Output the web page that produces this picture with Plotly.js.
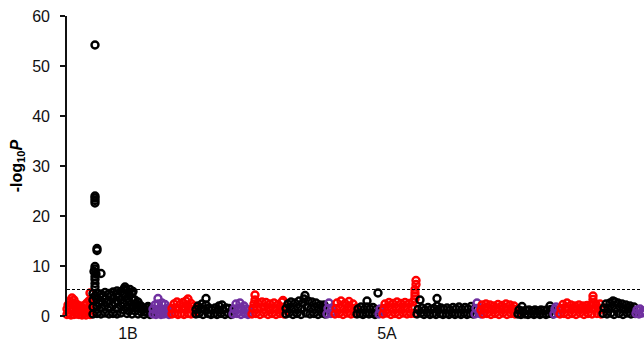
<!DOCTYPE html>
<html>
<head>
<meta charset="utf-8">
<script src="https://cdn.plot.ly/plotly-3.0.1.min.js"></script>
<style>html,body{margin:0;padding:0;background:#fff;}#chart{width:644px;height:342px;}</style>
</head>
<body>
<div id="chart"></div>
<script>
// Chromosome order and subgenome colours
const chromosomes = ["1A","1B","1D","2A","2B","2D","3A","3B","3D","4A","4B","4D","5A","5B","5D","6A","6B","6D","7A","7B","7D"];
const genomeColors = {A: "#FF0000", B: "#000000", D: "#7030A0"};

// Tick labels shown under the x axis and their cumulative positions
const tickLabels = ["1B", "5A"];
const tickPositions = [61, 320];

// Significance threshold (-log10 P)
const threshold = 5.3;

// Markers: [cumulative position, -log10 P]
const chr1A = [[0,0.3],[0,1.4],[1,2.2],[2,0.5],[3,3.0],[3,1.5],[4,0.2],[5,3.6],[5,2.4],[6,1.0],[7,3.2],[7,0.3],[8,2.0],[9,1.2],[10,0.4],[10,2.3],[12,1.6],[12,0.3],[13,2.0],[14,0.9],[15,0.2],[16,1.5],[17,0.6],[18,2.2],[19,1.3],[19,0.2],[20,2.6],[21,0.8],[22,3.0],[22,1.8],[23,0.3],[24,2.4],[24,1.2],[25,0.5],[23,4.6]];
const chr1B = [[26,0.4],[26,1.8],[26,3.2],[26,4.5],[30,0.5],[30,1.9],[30,3.3],[30,4.6],[34,0.4],[34,1.7],[34,3.0],[34,4.4],[38,0.6],[38,2.0],[38,3.4],[38,4.7],[42,0.4],[42,1.8],[42,3.1],[42,4.5],[46,0.5],[46,2.1],[46,3.5],[46,4.8],[50,0.4],[50,1.6],[50,3.0],[50,4.4],[50,5.0],[54,0.6],[54,2.0],[54,3.3],[54,4.9],[57,1.2],[57,2.6],[57,4.2],[57,5.4],[60,0.5],[60,1.9],[60,3.5],[60,5.1],[62,1.0],[62,2.8],[62,4.4],[65,0.4],[65,2.0],[65,3.6],[65,4.6],[68,1.0],[68,2.4],[68,3.2],[71,0.4],[71,1.6],[71,2.8],[74,0.8],[74,2.0],[77,0.3],[77,1.4],[80,0.8],[80,1.6],[83,0.3],[83,1.2],[85,0.6],[28,4.0],[32,2.5],[36,4.0],[40,2.7],[44,4.1],[48,2.6],[52,3.9],[56,4.5],[58,5.8],[59,5.2],[63,5.3],[66,4.9],[69,1.8],[72,2.2],[75,1.3],[78,0.8],[81,1.9],[84,0.9],[28,5.8],[28,6.5],[28,7.3],[28,7.9],[29,8.4],[27,8.9],[28,9.4],[28,9.9],[34,8.5],[30,13.1],[30,13.5],[28,22.6],[28,23.1],[28,23.6],[28,24.0],[28,54.2]];
const chr1D = [[86,0.4],[86,1.4],[88,2.2],[89,0.3],[90,1.2],[91,3.5],[91,2.4],[92,0.5],[93,1.6],[94,0.3],[95,2.6],[95,1.2],[97,0.4],[98,2.3],[98,1.3],[100,0.5],[101,1.5],[102,0.3],[103,1.0]];
const chr2A = [[105,0.4],[105,1.5],[107,2.4],[108,0.6],[109,1.6],[110,2.8],[111,0.3],[112,1.4],[113,2.3],[114,0.5],[115,1.8],[116,2.7],[117,0.3],[118,1.3],[119,3.0],[120,2.2],[121,3.4],[121,0.5],[122,1.6],[124,2.5],[124,0.4],[125,1.3],[127,2.0],[127,0.5],[128,1.2]];
const chr2B = [[129,0.4],[129,1.3],[131,2.0],[132,0.5],[134,1.5],[135,2.4],[136,0.3],[138,1.2],[139,3.5],[139,2.2],[141,0.5],[142,1.6],[144,0.3],[145,1.2],[147,0.5],[148,1.6],[150,0.3],[151,1.2],[152,2.0],[154,0.5],[155,2.2],[156,1.3],[158,0.3],[159,1.6],[161,0.6],[162,1.5],[164,0.3],[165,1.0]];
const chr2D = [[166,0.4],[167,1.4],[169,2.4],[170,0.5],[171,1.5],[173,2.6],[174,0.3],[175,1.3],[177,2.0],[178,0.5],[179,1.4],[181,0.3],[182,1.2],[183,0.6]];
const chr3A = [[185,0.4],[186,1.5],[187,2.4],[188,4.2],[188,3.2],[189,0.5],[190,1.4],[191,2.6],[193,0.3],[194,1.6],[195,2.8],[197,0.6],[198,1.8],[199,2.7],[201,0.3],[202,1.3],[203,2.4],[205,0.5],[206,1.6],[207,2.6],[209,0.3],[210,1.3],[211,2.3],[213,0.5],[214,1.6],[215,2.8],[216,3.1],[217,0.4],[218,1.4]];
const chr3B = [[219,0.4],[219,1.5],[221,2.4],[222,0.6],[223,1.8],[224,2.8],[226,0.3],[227,1.4],[228,2.6],[230,0.5],[231,1.7],[232,3.0],[234,0.3],[235,1.4],[236,2.6],[237,3.4],[238,4.1],[239,0.6],[240,1.8],[241,3.0],[243,0.4],[244,1.5],[245,2.8],[247,0.5],[248,1.8],[249,2.6],[251,0.3],[252,1.4],[253,2.2],[255,0.6],[256,1.6],[257,2.2],[258,0.4]];
const chr3D = [[260,0.4],[261,1.5],[262,2.6],[264,0.5],[265,1.6],[267,0.8]];
const chr4A = [[268,0.4],[269,1.5],[270,2.6],[272,0.5],[273,1.7],[274,3.0],[276,0.3],[277,1.4],[278,2.5],[280,0.6],[281,1.8],[282,2.9],[284,0.4],[285,1.5],[286,2.4],[288,0.5],[289,1.6]];
const chr4B = [[290,0.4],[291,1.4],[293,0.5],[294,1.8],[296,0.3],[297,1.3],[299,0.6],[300,3.0],[300,1.8],[302,0.4],[303,1.4],[305,0.6],[306,1.7],[308,0.3],[309,1.3],[311,4.6],[311,0.6]];
const chr4D = [[312,0.4],[313,1.4],[315,0.6]];
const chr5A = [[316,0.4],[317,1.5],[318,2.4],[320,0.6],[321,1.8],[322,2.7],[324,0.3],[325,1.4],[326,2.5],[328,0.5],[329,1.7],[330,2.8],[332,0.3],[333,1.4],[334,2.5],[336,0.6],[337,1.8],[338,2.7],[340,0.4],[341,1.5],[342,2.5],[344,0.5],[345,1.7],[346,2.8],[348,0.5],[348,3.4],[348,4.0],[348,4.6],[348,5.3],[349,6.3],[349,7.1]];
const chr5B = [[350,0.4],[351,1.3],[353,3.2],[354,0.6],[355,1.6],[357,0.3],[358,1.2],[360,0.6],[361,1.7],[363,0.3],[364,1.3],[366,0.5],[367,1.5],[369,0.3],[370,3.5],[370,2.0],[371,1.2],[373,0.5],[374,1.6],[376,0.3],[377,1.3],[379,0.5],[380,1.6],[382,0.3],[383,1.2],[385,0.6],[386,1.7],[388,0.3],[389,1.4],[391,0.5],[392,1.8],[394,0.3],[395,1.3],[397,0.6],[398,1.7],[400,0.3],[401,1.4],[403,0.5],[404,1.9],[406,0.4],[407,1.3]];
const chr5D = [[408,0.4],[409,1.5],[410,2.6],[412,0.6],[413,1.6],[414,0.4]];
const chr6A = [[414,1.2],[415,2.2],[416,0.4],[417,1.5],[419,2.4],[420,0.5],[421,1.6],[423,2.2],[424,0.3],[425,1.3],[427,2.0],[428,0.5],[429,1.5],[431,2.3],[432,0.3],[433,1.4],[435,2.1],[436,0.6],[437,1.6],[439,2.4],[440,0.3],[441,1.4],[443,2.2],[444,0.5],[445,1.5],[447,2.0],[448,0.4],[449,1.3],[450,0.6]];
const chr6B = [[451,0.4],[452,1.2],[454,0.3],[455,1.9],[456,1.0],[458,0.4],[459,1.1],[461,0.3],[462,1.2],[464,0.5],[465,1.0],[467,0.3],[468,1.2],[470,0.5],[471,1.0],[473,0.3],[474,1.2],[476,0.5],[477,1.1],[479,0.3],[480,1.2],[482,0.5],[483,2.0],[484,1.3],[486,0.4]];
const chr6D = [[487,0.4],[488,1.3],[489,1.8],[491,0.6],[492,1.2]];
const chr7A = [[493,0.4],[494,1.5],[496,2.3],[497,0.5],[498,1.6],[500,2.6],[501,0.3],[502,1.4],[504,2.2],[505,0.5],[506,1.5],[508,2.0],[509,0.3],[510,1.4],[512,2.2],[513,0.6],[514,1.6],[516,2.0],[517,0.3],[518,1.3],[520,2.1],[521,0.5],[522,1.5],[524,2.2],[525,0.4],[526,2.6],[526,3.3],[526,4.0],[527,1.4],[529,2.3],[530,0.5],[531,1.6],[533,2.4],[534,0.4],[535,1.4]];
const chr7B = [[536,0.5],[537,1.6],[539,2.4],[540,0.4],[541,1.5],[543,2.6],[544,0.6],[545,1.8],[546,3.0],[547,0.3],[548,2.8],[549,1.4],[551,2.6],[552,0.5],[553,1.8],[555,2.4],[556,0.3],[557,1.4],[559,2.2],[560,0.6],[561,1.6],[563,2.0],[564,0.4],[565,1.3],[567,1.8],[568,0.5]];
const chr7D = [[569,0.5],[570,1.2],[572,0.4],[573,1.4],[575,0.6],[576,1.0]];

const chromData = {"1A":chr1A,"1B":chr1B,"1D":chr1D,"2A":chr2A,"2B":chr2B,"2D":chr2D,"3A":chr3A,"3B":chr3B,"3D":chr3D,"4A":chr4A,"4B":chr4B,"4D":chr4D,"5A":chr5A,"5B":chr5B,"5D":chr5D,"6A":chr6A,"6B":chr6B,"6D":chr6D,"7A":chr7A,"7B":chr7B,"7D":chr7D};

const traces = chromosomes.map(function (name) {
  const pts = chromData[name];
  const col = genomeColors[name.charAt(1)];
  return {
    type: "scatter",
    mode: "markers",
    name: name,
    x: pts.map(function (p) { return p[0]; }),
    y: pts.map(function (p) { return p[1]; }),
    cliponaxis: false,
    hoverinfo: "skip",
    marker: {symbol: "circle-open", size: 7, color: col, line: {width: 2.4, color: col}}
  };
});

const layout = {
  width: 644,
  height: 342,
  margin: {l: 67, r: 0, t: 16, b: 26},
  paper_bgcolor: "#fff",
  plot_bgcolor: "#fff",
  showlegend: false,
  font: {family: "Liberation Sans, Arial, sans-serif", color: "#111"},
  xaxis: {
    range: [0, 577],
    showgrid: false,
    zeroline: false,
    showline: false,
    ticks: "",
    tickmode: "array",
    tickvals: tickPositions,
    ticktext: tickLabels,
    ticklabelstandoff: 6,
    tickfont: {size: 16, color: "#111"},
    fixedrange: true
  },
  yaxis: {
    range: [0, 60],
    tickmode: "array",
    tickvals: [0, 10, 20, 30, 40, 50, 60],
    showgrid: false,
    zeroline: false,
    showline: true,
    linecolor: "#111",
    linewidth: 1.8,
    ticks: "outside",
    ticklen: 5,
    tickwidth: 1.5,
    tickcolor: "#111",
    ticklabelstandoff: 7,
    tickfont: {size: 16, color: "#111"},
    title: {text: "<b>-log<sub>10</sub><i>P</i></b>", font: {size: 16, color: "#000"}, standoff: 6},
    fixedrange: true
  },
  shapes: [{
    type: "line", xref: "x", yref: "y",
    x0: 0, x1: 573, y0: threshold, y1: threshold,
    line: {color: "#000", width: 1, dash: "3px,2px"}
  }]
};

Plotly.newPlot("chart", traces, layout, {displayModeBar: false, staticPlot: true});
</script>
</body>
</html>
